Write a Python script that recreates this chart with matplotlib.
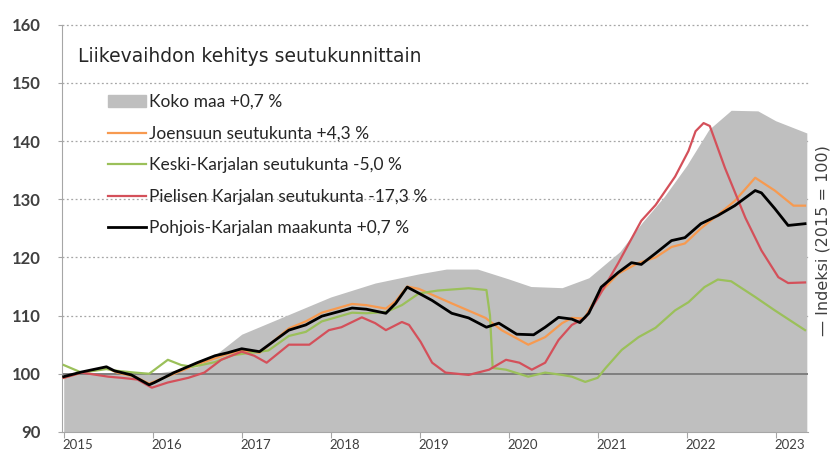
import matplotlib.pyplot as plt
from matplotlib.patches import Patch
from matplotlib.lines import Line2D

plt.rcParams['font.family'] = ['Lato', 'DejaVu Sans']

# Koko maa (harmaa alue)
t_koko = [2015.0, 2015.5, 2016.0, 2016.5, 2016.75, 2017.0, 2017.5, 2018.0, 2018.5, 2019.0,
          2019.3, 2019.65, 2020.0, 2020.25, 2020.6, 2020.9, 2021.25, 2021.5, 2021.75, 2022.0,
          2022.25, 2022.5, 2022.8, 2023.0, 2023.35]
v_koko = [100.0, 100.2, 100.0, 101.2, 103.8, 106.8, 110.0, 113.2, 115.6, 117.2,
          118.0, 118.0, 116.3, 115.0, 114.8, 116.5, 121.0, 126.0, 130.5, 135.8,
          142.0, 145.3, 145.2, 143.5, 141.4]

# Joensuun seutukunta
t_joe = [2015.0, 2015.2, 2015.48, 2015.6, 2015.8, 2015.96, 2016.24, 2016.5, 2016.84, 2017.0,
         2017.2, 2017.53, 2017.72, 2017.9, 2018.24, 2018.4, 2018.62, 2018.73, 2018.86, 2018.99,
         2019.36, 2019.74, 2019.92, 2020.22, 2020.41, 2020.6, 2020.71, 2020.85, 2021.0, 2021.23,
         2021.45, 2021.65, 2021.83, 2021.98, 2022.16, 2022.35, 2022.54, 2022.77, 2022.99, 2023.2,
         2023.33]
v_joe = [99.3, 100.2, 101.0, 100.2, 99.5, 98.3, 100.0, 101.6, 103.4, 104.0,
         103.6, 107.8, 109.0, 110.5, 112.0, 111.8, 111.2, 112.5, 115.0, 114.6,
         112.1, 109.6, 107.5, 105.0, 106.3, 108.7, 109.6, 109.5, 113.5, 117.2,
         119.0, 120.0, 121.8, 122.4, 125.0, 127.3, 129.7, 133.7, 131.5, 128.9,
         128.9]

# Keski-Karjalan seutukunta
t_kes = [2015.0, 2015.2, 2015.48, 2015.6, 2015.8, 2015.96, 2016.17, 2016.32, 2016.45, 2016.7,
         2016.9, 2017.1, 2017.3, 2017.53, 2017.72, 2017.9, 2018.24, 2018.4, 2018.62, 2018.8,
         2018.99, 2019.2, 2019.55, 2019.75, 2019.79, 2019.82, 2019.97, 2020.22, 2020.41, 2020.6,
         2020.71, 2020.86, 2021.0, 2021.09, 2021.27, 2021.46, 2021.65, 2021.87, 2022.02, 2022.2,
         2022.35, 2022.5, 2022.77, 2022.99, 2023.33]
v_kes = [101.5, 100.2, 100.8, 100.5, 100.2, 100.0, 102.4, 101.5, 101.2, 102.0,
         103.2, 103.6, 104.0, 106.5, 107.2, 109.0, 110.5, 110.4, 110.6, 111.8,
         113.8, 114.3, 114.7, 114.4, 110.0, 101.0, 100.7, 99.5, 100.2, 99.8,
         99.5, 98.6, 99.3, 101.0, 104.1, 106.3, 107.9, 110.9, 112.3, 114.9,
         116.2, 115.9, 113.2, 110.9, 107.5]

# Pielisen Karjalan seutukunta
t_pie = [2015.0, 2015.2, 2015.5, 2015.65, 2015.83, 2015.99, 2016.17, 2016.4, 2016.58, 2016.77,
         2017.0, 2017.14, 2017.28, 2017.53, 2017.76, 2017.98, 2018.12, 2018.35, 2018.5, 2018.62,
         2018.8, 2018.88, 2019.01, 2019.14, 2019.29, 2019.55, 2019.78, 2019.97, 2020.12, 2020.26,
         2020.41, 2020.56, 2020.71, 2020.86, 2021.01, 2021.23, 2021.49, 2021.65, 2021.87, 2022.02,
         2022.1, 2022.19, 2022.26, 2022.43, 2022.66, 2022.84, 2023.03, 2023.14, 2023.33]
v_pie = [99.3, 100.2, 99.5, 99.3, 99.0, 97.6, 98.5, 99.3, 100.2, 102.4,
         103.8, 103.1, 101.9, 105.0, 105.0, 107.5, 108.0, 109.7, 108.7, 107.5,
         108.9, 108.4, 105.5, 101.9, 100.2, 99.8, 100.7, 102.4, 101.9, 100.7,
         101.9, 105.8, 108.4, 109.6, 113.2, 119.0, 126.3, 129.0, 133.9, 138.3,
         141.7, 143.1, 142.6, 135.4, 126.8, 121.2, 116.6, 115.6, 115.7]

# Pohjois-Karjalan maakunta
t_pk = [2015.0, 2015.2, 2015.48, 2015.57, 2015.76, 2015.96, 2016.02, 2016.24, 2016.5, 2016.7,
        2016.84, 2017.0, 2017.2, 2017.53, 2017.72, 2017.9, 2018.24, 2018.4, 2018.62, 2018.73,
        2018.86, 2019.02, 2019.14, 2019.36, 2019.55, 2019.75, 2019.89, 2020.09, 2020.28, 2020.41,
        2020.56, 2020.71, 2020.8, 2020.9, 2021.04, 2021.23, 2021.38, 2021.49, 2021.65, 2021.83,
        2021.98, 2022.16, 2022.35, 2022.54, 2022.77, 2022.84, 2022.99, 2023.14, 2023.33]
v_pk = [99.5, 100.3, 101.2, 100.5, 99.8, 98.1, 98.5, 100.2, 101.9, 103.1,
        103.6, 104.3, 103.8, 107.5, 108.4, 109.9, 111.3, 111.1, 110.4, 112.1,
        114.9, 113.6, 112.6, 110.4, 109.6, 108.0, 108.7, 106.8, 106.7, 108.0,
        109.7, 109.4, 108.8, 110.4, 114.9, 117.4, 119.1, 118.8, 120.7, 122.9,
        123.4, 125.8, 127.2, 128.9, 131.5, 131.1, 128.4, 125.5, 125.8]

years = [2015, 2016, 2017, 2018, 2019, 2020, 2021, 2022, 2023]
year_labels = ['2015', '2016', '2017', '2018', '2019', '2020', '2021', '2022', '2023']
y_ticks = [90, 100, 110, 120, 130, 140, 150, 160]

labels = ['Koko maa +0,7 %', 'Joensuun seutukunta +4,3 %', 'Keski-Karjalan seutukunta -5,0 %',
          'Pielisen Karjalan seutukunta -17,3 %', 'Pohjois-Karjalan maakunta +0,7 %']

c_gray = '#BFBFBF'
c_orange = '#F79A50'
c_green = '#9BC05A'
c_red = '#D4505A'

fig = plt.figure(figsize=(8.37, 4.59), dpi=100)
ax = fig.add_axes([0.074, 0.059, 0.891, 0.887])

ax.fill_between(t_koko, 90, v_koko, color=c_gray, lw=0, zorder=1)
for y in y_ticks[2:]:
    ax.axhline(y, color='#A6A6A6', lw=0.9, ls=(0, (1.5, 2)), zorder=0.5, clip_on=False)
ax.axhline(100, color='#7F7F7F', lw=1.4, zorder=2)

ax.plot(t_joe, v_joe, color=c_orange, lw=1.6, zorder=3)
ax.plot(t_kes, v_kes, color=c_green, lw=1.6, zorder=3)
ax.plot(t_pie, v_pie, color=c_red, lw=1.6, zorder=3)
ax.plot(t_pk, v_pk, color='black', lw=2.0, zorder=4)

ax.set_xlim(2014.98, 2023.36)
ax.set_ylim(90, 160)
ax.set_yticks(y_ticks)
ax.set_yticklabels([str(v) for v in y_ticks], fontsize=12, color='#404040', fontweight='bold')
ax.set_xticks(years)
ax.set_xticklabels([])
ax.set_xticks([y + 0.16 for y in years], year_labels, minor=True, fontsize=9.5, color='#404040')
ax.tick_params(axis='x', which='major', length=4, color='#A6A6A6', direction='out')
ax.tick_params(axis='x', which='minor', length=0, pad=5)
ax.tick_params(axis='y', length=3, color='#A6A6A6', pad=12)

for s in ['top', 'right']:
    ax.spines[s].set_visible(False)
ax.spines['left'].set_color('#A6A6A6')
ax.spines['bottom'].set_color('#A6A6A6')

ax.text(0.021, 0.921, 'Liikevaihdon kehitys seutukunnittain', transform=ax.transAxes,
        fontsize=13.5, color='#262626', va='center', ha='left', family='DejaVu Sans')

handles = [Patch(color=c_gray),
           Line2D([], [], color=c_orange, lw=1.6),
           Line2D([], [], color=c_green, lw=1.6),
           Line2D([], [], color=c_red, lw=1.6),
           Line2D([], [], color='black', lw=2.0)]
ax.legend(handles, labels, loc='upper left', bbox_to_anchor=(0.062, 0.83), frameon=False,
          fontsize=12.5, labelspacing=0.9, handlelength=2.2, handletextpad=0.15,
          borderpad=0, borderaxespad=0, labelcolor='#262626')

ax.text(1.02, 0.47, '— Indeksi (2015 = 100)', transform=ax.transAxes, rotation=90,
        fontsize=11.5, color='#404040', va='center', ha='center', family='DejaVu Sans')

fig.savefig('out.png', dpi=100)
